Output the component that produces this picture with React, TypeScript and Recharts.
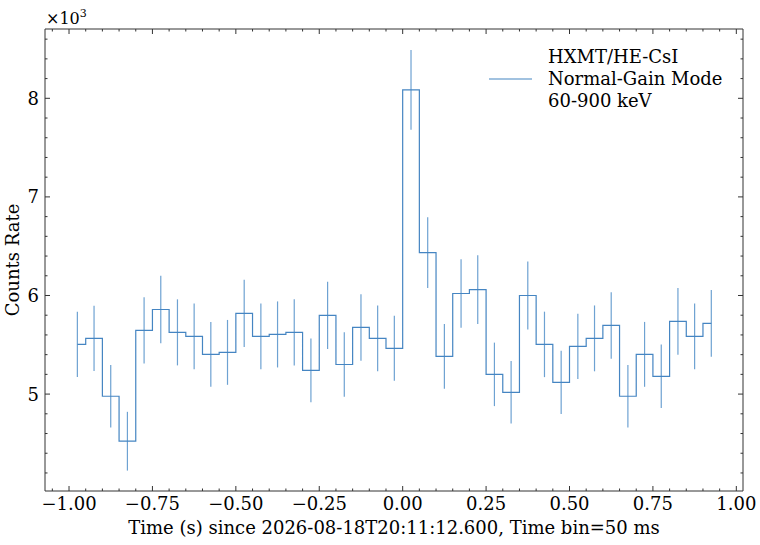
import { ComposedChart, Line, XAxis, YAxis, ErrorBar, Legend } from 'recharts';

// HXMT/HE-CsI light curve, 50 ms bins

const binCenters = [
  -0.975, -0.925, -0.875, -0.825, -0.775, -0.725, -0.675, -0.625, -0.575, -0.525,
  -0.475, -0.425, -0.375, -0.325, -0.275, -0.225, -0.175, -0.125, -0.075, -0.025,
  0.025, 0.075, 0.125, 0.175, 0.225, 0.275, 0.325, 0.375, 0.425, 0.475,
  0.525, 0.575, 0.625, 0.675, 0.725, 0.775, 0.825, 0.875, 0.925,
];

const countRate = [
  5504, 5565, 4978, 4522, 5646, 5858, 5626, 5585, 5403, 5423,
  5818, 5585, 5605, 5626, 5241, 5798, 5300, 5676, 5565, 5464,
  8085, 6435, 5383, 6020, 6060, 5200, 5018, 6000, 5504, 5119,
  5484, 5565, 5696, 4978, 5403, 5180, 5737, 5585, 5717,
];

const rateError = [
  330, 330, 318, 298, 336, 343, 335, 334, 329, 329,
  341, 334, 335, 335, 324, 341, 326, 337, 334, 330,
  404, 359, 328, 347, 348, 322, 317, 346, 332, 320,
  331, 334, 337, 316, 329, 322, 339, 334, 338,
];

const xMajorTicks = [-1.0, -0.75, -0.5, -0.25, 0.0, 0.25, 0.5, 0.75, 1.0];
const yMajorTicks = [5000, 6000, 7000, 8000];

const legendLines = ['HXMT/HE-CsI', 'Normal-Gain Mode', '60-900 keV'];
const xLabel = 'Time (s) since 2026-08-18T20:11:12.600, Time bin=50 ms';
const yLabel = 'Counts Rate';

// minor ticks: 0.05 s on x, 200 counts/s on y
const xMinorTicks: number[] = [];
for (let i = -21; i <= 20; i++) xMinorTicks.push(Math.round(i * 5) / 100);
const yMinorTicks: number[] = [];
for (let v = 4200; v <= 8600; v += 200) yMinorTicks.push(v);

const data = binCenters.map((t, i) => ({ t, rate: countRate[i], err: rateError[i] }));

const W = 760;
const H = 545;
const PLOT_LEFT = 45;
const PLOT_TOP = 29;
const PLOT_RIGHT = 743;
const PLOT_BOTTOM = 491;
const FONT = 'DejaVu Serif';
const FS = 18;
const FRAME = '#333333';
const LINE_COLOR = '#4585c2';
const ERR_COLOR = '#6ea2d2';
const MAJOR_LEN = 5;
const MINOR_LEN = 2.5;

const isXMajor = (v: number) => xMajorTicks.some(m => Math.abs(m - v) < 1e-6);
const isYMajor = (v: number) => yMajorTicks.includes(v);

function formatX(v: number): string {
  const s = Math.abs(v).toFixed(2);
  return v < -1e-9 ? `\u2212${s}` : s;
}

function BottomTick(props: any) {
  const { x, payload } = props;
  const major = isXMajor(payload.value);
  return (
    <g>
      <line x1={x} x2={x} y1={PLOT_BOTTOM} y2={PLOT_BOTTOM - (major ? MAJOR_LEN : MINOR_LEN)} stroke={FRAME} />
      {major && (
        <text x={x} y={510} textAnchor="middle" style={{ fontFamily: FONT, fontSize: FS }} fill="#000">
          {formatX(payload.value)}
        </text>
      )}
    </g>
  );
}

function TopTick(props: any) {
  const { x, payload } = props;
  const major = isXMajor(payload.value);
  return <line x1={x} x2={x} y1={PLOT_TOP} y2={PLOT_TOP + (major ? MAJOR_LEN : MINOR_LEN)} stroke={FRAME} />;
}

function LeftTick(props: any) {
  const { y, payload } = props;
  const major = isYMajor(payload.value);
  return (
    <g>
      <line x1={PLOT_LEFT} x2={PLOT_LEFT + (major ? MAJOR_LEN : MINOR_LEN)} y1={y} y2={y} stroke={FRAME} />
      {major && (
        <text x={PLOT_LEFT - 6} y={y + 6.5} textAnchor="end" style={{ fontFamily: FONT, fontSize: FS }} fill="#000">
          {payload.value / 1000}
        </text>
      )}
    </g>
  );
}

function RightTick(props: any) {
  const { y, payload } = props;
  const major = isYMajor(payload.value);
  return <line x1={PLOT_RIGHT} x2={PLOT_RIGHT - (major ? MAJOR_LEN : MINOR_LEN)} y1={y} y2={y} stroke={FRAME} />;
}

function XAxisTitle() {
  return (
    <text x={(PLOT_LEFT + PLOT_RIGHT) / 2} y={534} textAnchor="middle" style={{ fontFamily: FONT, fontSize: FS }} fill="#000">
      {xLabel}
    </text>
  );
}

function YAxisTitle() {
  const cy = (PLOT_TOP + PLOT_BOTTOM) / 2;
  return (
    <text
      x={12}
      y={cy}
      transform={`rotate(-90 12 ${cy})`}
      textAnchor="middle"
      dominantBaseline="central"
      style={{ fontFamily: FONT, fontSize: FS }}
      fill="#000"
    >
      {yLabel}
    </text>
  );
}

function OffsetText() {
  return (
    <text x={46} y={24} style={{ fontFamily: FONT, fontSize: 16 }} fill="#000">
      {'\u00d710'}
      <tspan dy={-7} style={{ fontSize: 11 }}>3</tspan>
    </text>
  );
}

function LegendBox() {
  return (
    <div style={{ position: 'relative', fontFamily: FONT, fontSize: FS, lineHeight: '22px', color: '#000' }}>
      <svg width={44} height={4} style={{ position: 'absolute', left: 0, top: 31 }}>
        <line x1={0} x2={43} y1={2} y2={2} stroke={LINE_COLOR} strokeWidth={1.2} />
      </svg>
      <div style={{ marginLeft: 59, whiteSpace: 'nowrap' }}>
        {legendLines.map(l => (
          <div key={l}>{l}</div>
        ))}
      </div>
    </div>
  );
}

export default function App() {
  return (
    <div style={{ position: 'absolute', left: 0, top: 0, width: W, height: H, background: '#fff' }}>
      <ComposedChart width={W} height={H} data={data} margin={{ top: 28, right: 16, bottom: 24, left: 5 }}>
        <XAxis
          xAxisId="bottom"
          dataKey="t"
          type="number"
          domain={[-1.072, 1.02]}
          allowDataOverflow
          ticks={xMinorTicks}
          interval={0}
          tickLine={false}
          tick={<BottomTick />}
          height={30}
          axisLine={{ stroke: FRAME }}
          label={<XAxisTitle />}
        />
        <XAxis
          xAxisId="top"
          orientation="top"
          dataKey="t"
          type="number"
          domain={[-1.072, 1.02]}
          allowDataOverflow
          ticks={xMinorTicks}
          interval={0}
          tickLine={false}
          tick={<TopTick />}
          height={1}
          axisLine={{ stroke: FRAME }}
          label={<OffsetText />}
        />
        <YAxis
          yAxisId="left"
          type="number"
          domain={[4017, 8703]}
          allowDataOverflow
          ticks={yMinorTicks}
          interval={0}
          tickLine={false}
          tick={<LeftTick />}
          width={40}
          axisLine={{ stroke: FRAME }}
          label={<YAxisTitle />}
        />
        <YAxis
          yAxisId="right"
          orientation="right"
          type="number"
          domain={[4017, 8703]}
          allowDataOverflow
          ticks={yMinorTicks}
          interval={0}
          tickLine={false}
          tick={<RightTick />}
          width={1}
          axisLine={{ stroke: FRAME }}
        />
        <Legend
          layout="vertical"
          align="center"
          verticalAlign="middle"
          wrapperStyle={{ top: 46, left: 489, width: 260 }}
          content={<LegendBox />}
        />
        <Line
          xAxisId="top"
          yAxisId="right"
          dataKey="rate"
          stroke="none"
          dot={false}
          activeDot={false}
          legendType="none"
          isAnimationActive={false}
        />
        <Line
          xAxisId="bottom"
          yAxisId="left"
          type="step"
          dataKey="rate"
          stroke={LINE_COLOR}
          strokeWidth={1.2}
          dot={false}
          activeDot={false}
          isAnimationActive={false}
          name="HXMT/HE-CsI"
        >
          <ErrorBar dataKey="err" direction="y" width={0} stroke={ERR_COLOR} strokeWidth={1.2} isAnimationActive={false} />
        </Line>
      </ComposedChart>
    </div>
  );
}
